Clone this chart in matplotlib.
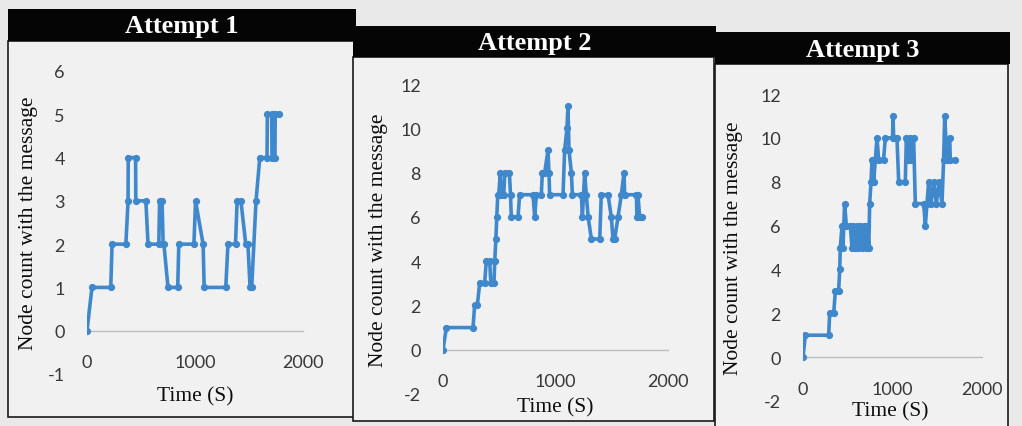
import numpy as np
import matplotlib
matplotlib.use('Agg')
import matplotlib.pyplot as plt
from matplotlib.patches import Rectangle

plt.rcParams['axes.unicode_minus'] = False

# node count with the message over time, one list pair per attempt
t1 = [0, 46, 220, 232, 360, 380, 382, 450, 452, 545, 565, 665, 672, 695, 705, 712, 750,
      840, 850, 990, 1005, 1075, 1085, 1285, 1305, 1375, 1390, 1425, 1470, 1490, 1510,
      1525, 1565, 1600, 1667, 1670, 1710, 1713, 1740, 1743, 1780]
c1 = [0, 1, 1, 2, 2, 3, 4, 4, 3, 3, 2, 2, 3, 3, 2, 2, 1,
      1, 2, 2, 3, 2, 1, 1, 2, 2, 3, 3, 2, 2, 1,
      1, 3, 4, 4, 5, 5, 4, 4, 5, 5]

t2 = [0, 30, 267, 281, 305, 326, 370, 385, 415, 425, 453, 460, 470, 478, 487,
      495, 510, 518, 540, 550, 590, 600, 607, 667, 681, 800, 815, 830, 874, 883,
      904, 933, 942, 948, 1067, 1081, 1102, 1111, 1120, 1141, 1150, 1230, 1239, 1259, 1274,
      1290, 1319, 1393, 1407, 1467, 1496, 1511, 1526, 1556, 1585, 1609, 1615, 1719, 1724, 1733,
      1748, 1772]
c2 = [0, 1, 1, 2, 2, 3, 3, 4, 4, 3, 3, 4, 5, 6, 7,
      7, 8, 7, 7, 8, 8, 7, 6, 6, 7, 7, 6, 7, 7, 8,
      8, 9, 8, 7, 7, 9, 10, 11, 9, 8, 7, 7, 6, 8, 7,
      6, 5, 5, 7, 7, 6, 5, 5, 6, 7, 8, 7, 7, 6, 7,
      6, 6]

t3 = [0, 26, 287, 298, 343, 361, 398, 410, 417, 436, 447, 465, 484, 529, 547,
      560, 580, 600, 620, 640, 660, 680, 700, 720, 735, 745, 760, 771, 790, 808,
      827, 845, 900, 920, 1000, 1006, 1013, 1050, 1069, 1143, 1155, 1170, 1192, 1210, 1236,
      1255, 1348, 1367, 1385, 1404, 1430, 1460, 1490, 1520, 1553, 1571, 1583, 1609, 1639, 1646,
      1702]
c3 = [0, 1, 1, 2, 2, 3, 3, 4, 5, 6, 5, 7, 6, 6, 5,
      6, 5, 6, 5, 6, 5, 6, 5, 6, 5, 7, 8, 9, 8, 9,
      10, 9, 9, 10, 10, 11, 10, 10, 8, 8, 10, 9, 10, 9, 10,
      7, 7, 6, 7, 8, 7, 8, 7, 8, 7, 9, 11, 9, 10, 9,
      9]

titles = ['Attempt 1', 'Attempt 2', 'Attempt 3']
series = [(t1, c1), (t2, c2), (t3, c3)]
yranges = [(-1, 6, 1), (-2, 12, 2), (-2, 12, 2)]
xticks = [0, 1000, 2000]

W, H = 1022, 427
fig = plt.figure(figsize=(W / 100, H / 100), dpi=100)
fig.patch.set_facecolor('#e9e9e9')

def rect(x0, y0, x1, y1):
    # pixel box (origin top-left) -> figure fraction
    return [x0 / W, 1 - y1 / H, (x1 - x0) / W, (y1 - y0) / H]

# frame box, title bar, plot area, y label x, x label (x, y)
layout = [
    dict(frame=(8, 42, 354, 418), bar=(8, 10, 356, 42), plot=(87, 72, 303, 375),
         ylab=38, xlab=(195, 397)),
    dict(frame=(353, 58, 714, 422), bar=(353, 27, 716, 58), plot=(443, 85, 668, 395),
         ylab=388, xlab=(555, 408)),
    dict(frame=(715, 65, 1008, 430), bar=(715, 33, 1010, 65), plot=(803, 95, 982, 402),
         ylab=743, xlab=(890, 412)),
]

blue = '#3f88cc'
tick_col = '#383838'

for i, lay in enumerate(layout):
    fx0, fy0, fx1, fy1 = lay['frame']
    fig.patches.append(Rectangle((fx0 / W, 1 - fy1 / H), (fx1 - fx0) / W, (fy1 - fy0) / H,
                                 transform=fig.transFigure, facecolor='#f1f1f1',
                                 edgecolor='#1a1a1a', linewidth=1.2, zorder=-3))
    bx0, by0, bx1, by1 = lay['bar']
    fig.patches.append(Rectangle((bx0 / W, 1 - by1 / H), (bx1 - bx0) / W, (by1 - by0) / H,
                                 transform=fig.transFigure, facecolor='#050505',
                                 edgecolor='none', zorder=-2))
    fig.text((bx0 + bx1) / 2 / W, 1 - ((by0 + by1) / 2 + 1) / H, titles[i],
             color='white', fontsize=19, fontweight='bold', family='Liberation Serif',
             ha='center', va='center')

    px0, py0, px1, py1 = lay['plot']
    ax = fig.add_axes(rect(px0, py0, px1, py1))
    ax.patch.set_alpha(0)
    t, c = series[i]
    ax.plot(t, c, color=blue, linewidth=2.6, marker='o', markersize=4.2,
            solid_joinstyle='miter', zorder=3)

    ymin, ymax, ystep = yranges[i]
    ax.set_xlim(0, 2000)
    ax.set_ylim(ymin, ymax)
    ax.set_yticks(np.arange(ymin, ymax + 1, ystep))
    ax.set_xticks(xticks)

    for s in ['top', 'right', 'left']:
        ax.spines[s].set_visible(False)
    ax.spines['bottom'].set_position(('data', 0))
    ax.spines['bottom'].set_color('#bdbdbd')
    ax.spines['bottom'].set_linewidth(1.0)

    ax.tick_params(axis='y', length=0, pad=16, labelsize=13, labelcolor=tick_col)
    ax.tick_params(axis='x', length=0, pad=17, labelsize=13, labelcolor=tick_col)
    for lab in ax.get_xticklabels() + ax.get_yticklabels():
        lab.set_family('Lato')

    ax.set_ylabel('Node count with the message', family='Liberation Serif',
                  fontsize=15.5, color='#0d0d0d')
    ax.yaxis.set_label_coords((lay['ylab'] - px0) / (px1 - px0), 0.5)
    xlx, xly = lay['xlab']
    ax.text((xlx - px0) / (px1 - px0), -(xly - py1) / (py1 - py0), 'Time (S)',
            transform=ax.transAxes, family='Liberation Serif', fontsize=15.5,
            color='#0d0d0d', ha='center', va='center')

plt.savefig('out.png', dpi=100, facecolor=fig.get_facecolor())
